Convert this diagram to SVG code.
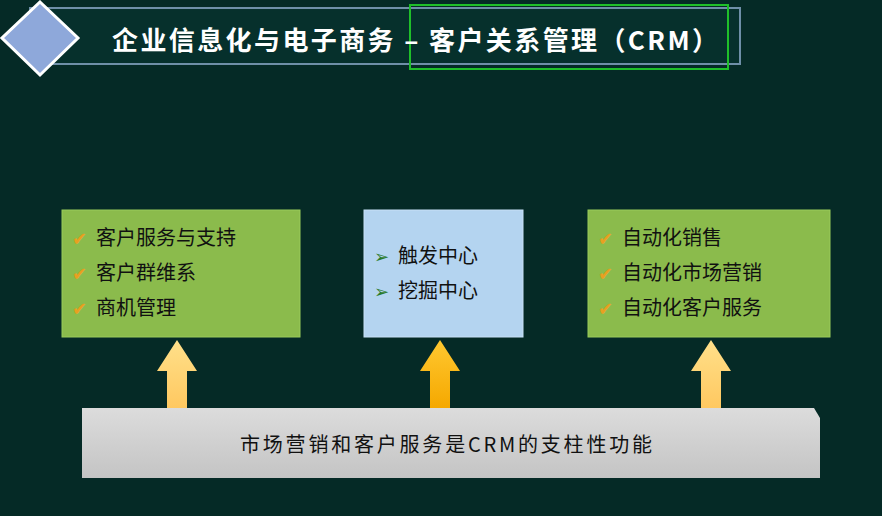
<svg xmlns="http://www.w3.org/2000/svg" width="882" height="516" viewBox="0 0 882 516">
<defs>
<style>
.t{font-family:"Noto Sans CJK SC","Liberation Sans",sans-serif;font-size:20px;fill:#111}
.ck{font-family:"DejaVu Sans",sans-serif;font-size:18px;font-weight:bold;fill:#e8a020}
.ar{font-family:"DejaVu Sans",sans-serif;font-size:18px;fill:#2a7a2a}
.g{fill:#8bbb4c;stroke:#9acb5a;stroke-width:1}
</style>
<linearGradient id="ay" x1="0" y1="0" x2="0" y2="1"><stop offset="0" stop-color="#ffe08a"/><stop offset="1" stop-color="#ffc860"/></linearGradient>
<linearGradient id="ao" x1="0" y1="0" x2="0" y2="1"><stop offset="0" stop-color="#ffc830"/><stop offset="1" stop-color="#f5a800"/></linearGradient>
<linearGradient id="bar" x1="0" y1="0" x2="0" y2="1"><stop offset="0" stop-color="#dcdcdc"/><stop offset="1" stop-color="#c4c4c4"/></linearGradient>
</defs>
<rect width="882" height="516" fill="#052a26"/>
<g id="title">
<rect x="30" y="8" width="710" height="56" fill="#06302c" stroke="#6f8fa8" stroke-width="2"/>
<rect x="410" y="5" width="318" height="64" fill="none" stroke="#1fbf2a" stroke-width="2"/>
<polygon points="40,2 78,38 40,75 2,38" fill="#8ea8da" stroke="#ffffff" stroke-width="3"/>
<text x="112" y="50" font-family="Noto Sans CJK SC,sans-serif" font-size="26" font-weight="bold" fill="#ffffff" textLength="606" lengthAdjust="spacing">企业信息化与电子商务 – 客户关系管理（CRM）</text>
</g>
<g id="left">
<rect class="g" x="62" y="210" width="238" height="127"/>
<text class="ck" x="72" y="245">✔</text><text class="t" x="96" y="245">客户服务与支持</text>
<text class="ck" x="72" y="280">✔</text><text class="t" x="96" y="280">客户群维系</text>
<text class="ck" x="72" y="315">✔</text><text class="t" x="96" y="315">商机管理</text>
</g>
<g id="middle">
<rect x="364" y="210" width="159" height="127" fill="#b4d4f0" stroke="#c8e0f6"/>
<text class="ar" x="374" y="263">➢</text><text class="t" x="398" y="263">触发中心</text>
<text class="ar" x="374" y="298">➢</text><text class="t" x="398" y="298">挖掘中心</text>
</g>
<g id="right">
<rect class="g" x="588" y="210" width="242" height="127"/>
<text class="ck" x="598" y="245">✔</text><text class="t" x="622" y="245">自动化销售</text>
<text class="ck" x="598" y="280">✔</text><text class="t" x="622" y="280">自动化市场营销</text>
<text class="ck" x="598" y="315">✔</text><text class="t" x="622" y="315">自动化客户服务</text>
</g>
<g id="connectors">
<polygon points="177,340 197,371 187,371 187,408 167,408 167,371 157,371" fill="url(#ay)"/>
<polygon points="440,340 460,371 450,371 450,408 430,408 430,371 420,371" fill="url(#ao)"/>
<polygon points="711,340 731,371 721,371 721,408 701,408 701,371 691,371" fill="url(#ay)"/>
</g>
<g id="base">
<polygon points="82,408 814,408 820,418 820,478 82,478" fill="url(#bar)"/>
<text class="t" x="446" y="452" text-anchor="middle" font-size="22" fill="#333" textLength="412" lengthAdjust="spacing">市场营销和客户服务是CRM的支柱性功能</text>
</g>
</svg>
